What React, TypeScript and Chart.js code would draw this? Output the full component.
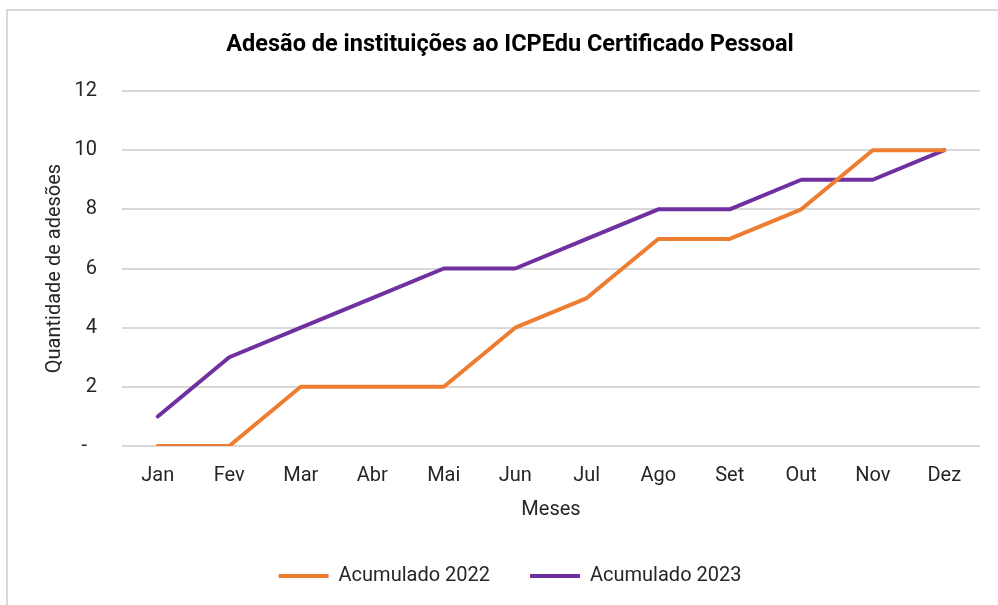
import React, { useEffect, useRef } from "react";
import { Chart, registerables } from "chart.js";

Chart.register(...registerables);

const months = ["Jan", "Fev", "Mar", "Abr", "Mai", "Jun", "Jul", "Ago", "Set", "Out", "Nov", "Dez"];
const acumulado2022 = [0, 0, 2, 2, 2, 4, 5, 7, 7, 8, 10, 10];
const acumulado2023 = [1, 3, 4, 5, 6, 6, 7, 8, 8, 9, 9, 10];
const seriesNames = ["Acumulado 2022", "Acumulado 2023"];
const seriesColors = ["#ED7D31", "#7030A0"];
const yMin = 0;
const yMax = 12;
const yStep = 2;
const zeroLabel = "-  ";
const chartTitle = "Adesão de instituições ao ICPEdu Certificado Pessoal";
const xTitle = "Meses";
const yTitle = "Quantidade de adesões";

const FONT = "Roboto";
const TEXT = "#262626";

export default function App() {
  const ref = useRef<HTMLCanvasElement | null>(null);

  useEffect(() => {
    if (!ref.current) return;
    const chart = new Chart(ref.current, {
      type: "line",
      data: {
        labels: months,
        datasets: [acumulado2022, acumulado2023].map((d, i) => ({
          label: seriesNames[i],
          data: d,
          borderColor: seriesColors[i],
          backgroundColor: seriesColors[i],
          borderWidth: 4,
          borderCapStyle: "round" as const,
          borderJoinStyle: "round" as const,
          pointRadius: 0,
          pointHoverRadius: 0,
          tension: 0,
          fill: false,
        })),
      },
      options: {
        responsive: false,
        animation: false,
        devicePixelRatio: 1,
        layout: { padding: { left: 40, right: 38, top: 0, bottom: 9 } },
        plugins: {
          title: {
            display: true,
            text: chartTitle,
            color: "#000",
            font: { family: FONT, size: 23.5, weight: "bold" },
            padding: { top: 31, bottom: 31.8 },
          },
          legend: {
            display: true,
            position: "bottom",
            labels: {
              usePointStyle: true,
              pointStyle: "line",
              pointStyleWidth: 50,
              color: TEXT,
              font: { family: FONT, size: 20 },
              padding: 40,
            },
          },
          tooltip: { enabled: false },
        },
        scales: {
          x: {
            offset: true,
            grid: { display: false },
            border: { display: false },
            ticks: { color: TEXT, font: { family: FONT, size: 20 }, padding: 10, maxRotation: 0 },
            title: {
              display: true,
              text: xTitle,
              color: TEXT,
              font: { family: FONT, size: 20 },
              padding: { top: 0, bottom: 4 },
            },
            afterFit: (s: any) => {
              s.height = 80;
            },
          },
          y: {
            min: yMin,
            max: yMax,
            grid: { color: "#D9D9D9", lineWidth: 2, drawTicks: false },
            border: { display: false },
            ticks: {
              stepSize: yStep,
              color: TEXT,
              font: { family: FONT, size: 20 },
              padding: 25,
              callback: (v: any) => (Number(v) === 0 ? zeroLabel : String(v)),
            },
            title: {
              display: true,
              text: yTitle,
              color: TEXT,
              font: { family: FONT, size: 20 },
              padding: { top: 3, bottom: 0 },
            },
            afterFit: (s: any) => {
              s.width = 82;
            },
          },
        },
      },
    });
    return () => chart.destroy();
  }, []);

  return (
    <div
      style={{
        position: "fixed",
        left: 0,
        top: 0,
        width: 998,
        height: 605,
        overflow: "hidden",
        background: "#fff",
      }}
    >
      <div
        style={{
          position: "absolute",
          left: 6,
          top: 9,
          width: 1100,
          height: 700,
          border: "2px solid #D9D9D9",
          boxSizing: "border-box",
        }}
      />
      <canvas
        ref={ref}
        width={1018}
        height={605}
        style={{ position: "absolute", left: 0, top: 0, width: 1018, height: 605 }}
      />
    </div>
  );
}
